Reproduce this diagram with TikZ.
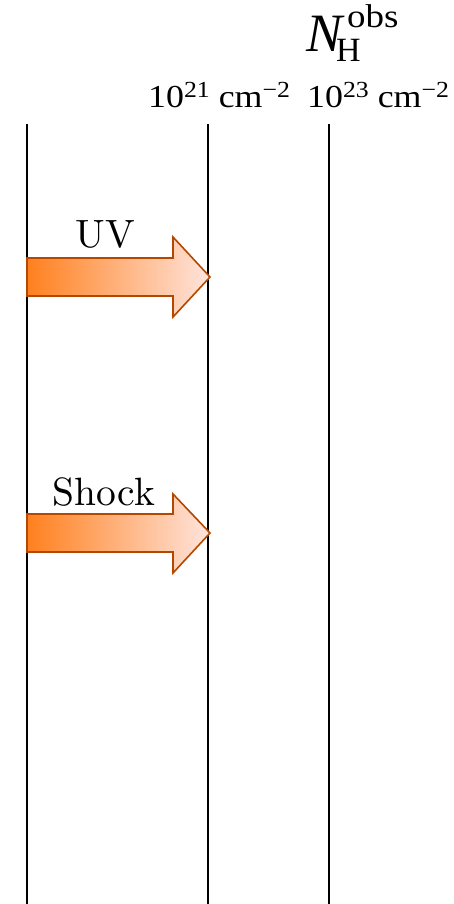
\documentclass[tikz,border=0pt]{standalone}
\usepackage{fontspec}
\newfontfamily\labelfont[FakeStretch=1.12]{Liberation Serif}
\newfontfamily\labelup{Liberation Serif}
\newfontfamily\tagfont{lmroman10-regular.otf}
\definecolor{arrowA}{RGB}{255,128,30}
\definecolor{arrowB}{RGB}{255,228,220}
\definecolor{arrowEdge}{RGB}{180,72,0}
\newcommand{\colden}[1]{{\labelfont\fontsize{32}{32}\selectfont 10\raisebox{10pt}{\fontsize{23}{23}\selectfont #1}\hspace{9pt}cm\raisebox{10pt}{\fontsize{23}{23}\selectfont −2}}}
\begin{document}
\begin{tikzpicture}[x=1pt,y=-1pt,
  wall/.style={line width=1.5pt,black},
  flowarrow/.style={line width=1.6pt,draw=arrowEdge,line join=miter,
    left color=arrowA,right color=arrowB},
  tag/.style={inner sep=0pt,font=\tagfont\fontsize{39.5}{39.5}\selectfont}]
\useasboundingbox (0,0) rectangle (453,904);
% vertical boundaries
\coordinate (l1t) at (27,124);  \coordinate (l1b) at (27,904);
\coordinate (l2t) at (208,124); \coordinate (l2b) at (208,904);
\coordinate (l3t) at (329,124); \coordinate (l3b) at (329,904);
\draw[wall] (l1t) -- (l1b);
\draw[wall] (l2t) -- (l2b);
\draw[wall] (l3t) -- (l3b);
% column density labels
\node[inner sep=0pt,anchor=base west] (nh) at (306,52)
  {{\labelup\fontsize{54}{54}\selectfont\itshape N}\hspace{-6pt}\rlap{\raisebox{-10pt}{\labelup\fontsize{34}{34}\selectfont H}}\hspace{11pt}\raisebox{24pt}{\labelfont\fontsize{33}{33}\selectfont obs}};
\node[inner sep=0pt,anchor=base west] (c21) at (148,108) {\colden{21}};
\node[inner sep=0pt,anchor=base west] (c23) at (307,108) {\colden{23}};
% UV arrow
\shade[flowarrow] (27,258) -- (173,258) -- (173,237) -- (210,277)
  -- (173,317) -- (173,296) -- (27,296) -- cycle;
\node[tag,anchor=base] (uv) at (105,247) {UV};
% shock arrow
\shade[flowarrow] (27,514) -- (173,514) -- (173,494) -- (210,533)
  -- (173,573) -- (173,552) -- (27,552) -- cycle;
\node[tag,anchor=base] (shock) at (104,505) {Shock};
\end{tikzpicture}
\end{document}
